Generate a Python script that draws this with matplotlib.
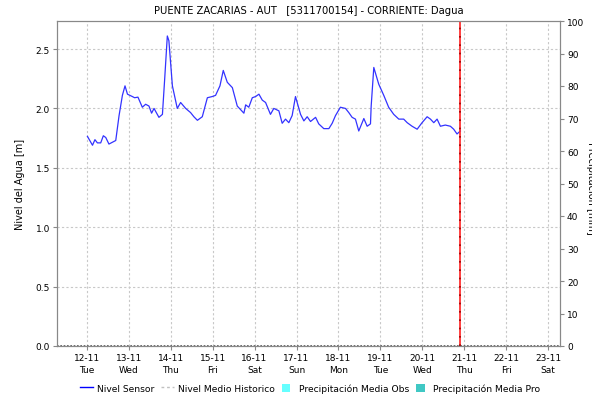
import matplotlib
matplotlib.use("Agg")
import matplotlib.pyplot as plt
from matplotlib.lines import Line2D
from matplotlib.patches import Patch
import pandas as pd

title = "PUENTE ZACARIAS - AUT   [5311700154] - CORRIENTE: Dagua"
start = pd.Timestamp("2024-11-12 00:00")

# hours after 12-11 00:00
hours = [0.4, 3.3, 4.7, 6.1, 8, 9.5, 10.9, 12.7, 16.6, 18.5, 20.4, 21.9, 23.3, 26.1, 27.4, 29.3,
         31.8, 33.7, 35.6, 37.1, 38.5, 41.3, 43.3, 44.6, 46.1, 47, 49, 51.8, 53.7, 56.6, 59.4,
         61.3, 63.3, 66.1, 69, 71.8, 73.7, 76.2, 78.1, 80.4, 83.3, 86.1, 89.9, 90.9, 92.7, 94.7,
         96.6, 98.5, 100.4, 102.3, 105.1, 107, 109.9, 111.8, 113.7, 115.6, 117.5, 119.4, 122.3,
         124.2, 126.1, 128, 130.9, 132.7, 135.6, 138.5, 140.4, 142.3, 145.1, 148, 149.9, 151.8,
         153.7, 155.6, 158.5, 160.4, 162.3, 162.7, 164.2, 167, 169.9, 172.7, 175.6, 178.5, 181.3,
         183.3, 186.1, 189, 191.8, 194.7, 196.6, 198.5, 200.4, 202.3, 205.1, 208, 209.9, 211.8,
         213.7]
nivel = [1.765, 1.69, 1.737, 1.71, 1.71, 1.77, 1.755, 1.70, 1.73, 1.94, 2.11, 2.19, 2.12, 2.10,
         2.09, 2.095, 2.01, 2.035, 2.02, 1.96, 2.0, 1.925, 1.95, 2.25, 2.61, 2.57, 2.19, 2.0, 2.05,
         2.0, 1.965, 1.93, 1.90, 1.93, 2.09, 2.10, 2.11, 2.19, 2.32, 2.22, 2.175, 2.02, 1.96, 2.03,
         2.01, 2.09, 2.10, 2.12, 2.07, 2.05, 1.95, 2.0, 1.98, 1.875, 1.91, 1.88, 1.94, 2.10, 1.95,
         1.895, 1.93, 1.89, 1.925, 1.87, 1.83, 1.83, 1.875, 1.94, 2.01, 2.0, 1.965, 1.925, 1.91,
         1.81, 1.915, 1.85, 1.87, 2.02, 2.345, 2.205, 2.11, 2.01, 1.95, 1.91, 1.91, 1.88, 1.85,
         1.825, 1.88, 1.93, 1.91, 1.88, 1.91, 1.85, 1.86, 1.85, 1.825, 1.785, 1.81]
now_hours = 213.7
tick_days = ["12-11\nTue", "13-11\nWed", "14-11\nThu", "15-11\nFri", "16-11\nSat", "17-11\nSun",
             "18-11\nMon", "19-11\nTue", "20-11\nWed", "21-11\nThu", "22-11\nFri", "23-11\nSat"]
left_ticks = [0.0, 0.5, 1.0, 1.5, 2.0, 2.5]
right_ticks = [0, 10, 20, 30, 40, 50, 60, 70, 80, 90, 100]

times = [start + pd.Timedelta(hours=h) for h in hours]
now = start + pd.Timedelta(hours=now_hours)
tick_pos = [start + pd.Timedelta(days=i) for i in range(len(tick_days))]

plt.rcParams['font.family'] = ['DejaVu Sans']
fig = plt.figure(figsize=(5.92, 4.02), dpi=100)
W, H = 592, 402
ax = fig.add_axes([57 / W, 1 - 347 / H, (560 - 57) / W, (347 - 22) / H])

ax.plot(times, nivel, color='#3333ff', lw=0.9, zorder=3)
ax.axhline(0, color='#555555', lw=1.2, ls=(0, (1, 1)), zorder=2)
ax.axvline(now, color='#ff2020', lw=1.2, zorder=4)
ax.axvline(now, color='#990000', lw=1.2, ls=(0, (1, 4)), zorder=5)

ax.set_xlim(start - pd.Timedelta(hours=17), start + pd.Timedelta(hours=270.7))
ax.set_ylim(0, 2.736)
ax.set_xticks(tick_pos)
ax.set_xticklabels(tick_days, fontsize=6.5, linespacing=1.5)
ax.set_yticks(left_ticks)
ax.set_yticklabels([f"{v:.1f}" for v in left_ticks], fontsize=6.5)
ax.grid(True, color='#c8c8c8', ls=(0, (2, 2)), lw=0.8)
ax.set_ylabel("Nivel del Agua [m]", fontsize=7, labelpad=8)

for s in ax.spines.values():
    s.set_color('#888888')
ax.tick_params(axis='both', length=3, width=0.8, color='#888888', pad=2)

ax2 = ax.twinx()
ax2.set_ylim(0, 100)
ax2.set_yticks(right_ticks)
ax2.set_yticklabels([str(v) for v in right_ticks], fontsize=6.5)
ax2.tick_params(axis='y', length=3, width=0.8, color='#888888', pad=2)
for s in ax2.spines.values():
    s.set_color('#888888')

fig.text(0.998, 1 - 188 / H, "Precipitación [mm]", rotation=270, fontsize=7,
         ha='center', va='center')

fig.suptitle(title, fontsize=7.2, y=1 - 11 / H, x=(57 + 560) / 2 / W, va='center')

handles = [Line2D([], [], color='#0000ff', lw=1.0),
           Line2D([], [], color='#c0c0c0', lw=1.0, ls=(0, (2, 2))),
           Patch(facecolor='#66ffff', edgecolor='none'),
           Patch(facecolor='#40c8c4', edgecolor='none')]
labels = ["Nivel Sensor", "Nivel Medio Historico", "Precipitación Media Obs", "Precipitación Media Pro"]
leg = fig.legend(handles, labels, loc='center', bbox_to_anchor=(310 / W, 1 - 389 / H), ncol=4,
                 frameon=False, fontsize=6.6, handlelength=1.4, handletextpad=0.4,
                 columnspacing=0.8, handleheight=1.0)
for p in leg.get_patches():
    p.set_width(6)

fig.savefig("out.png", dpi=100)
